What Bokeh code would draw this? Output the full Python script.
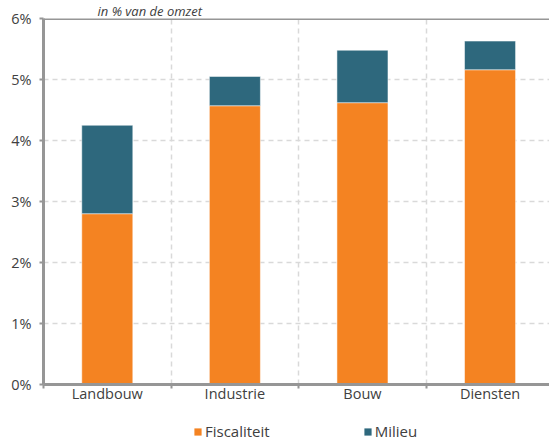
from bokeh.plotting import figure
from bokeh.layouts import column
from bokeh.models import (Range1d, FixedTicker, Span, Title, Legend, LegendItem,
                          ColumnDataSource)
from bokeh.embed import file_html
from bokeh.resources import INLINE

# Sector shares, in % of turnover
sectors = ["Landbouw", "Industrie", "Bouw", "Diensten"]
fiscaliteit = [2.80, 4.57, 4.62, 5.16]
milieu = [1.45, 0.48, 0.86, 0.47]
y_ticks = [0, 1, 2, 3, 4, 5, 6]
series = ["Fiscaliteit", "Milieu"]

ORANGE = "#F48322"
TEAL = "#2E687D"
AXIS = "#969696"
GRID = "#D9D9D9"
TEXT = "#404040"
FONT = "Open Sans"
FS = "14.5px"

centers = [i + 0.5 for i in range(len(sectors))]
totals = [f + m for f, m in zip(fiscaliteit, milieu)]
src = ColumnDataSource(dict(x=centers, fisc=fiscaliteit, tot=totals, zero=[0] * 4))

# ---- main chart -------------------------------------------------------------
p = figure(frame_width=506, frame_height=366, output_backend="svg",
           toolbar_location=None,
           x_range=Range1d(0, 3.966), y_range=Range1d(0, 6),
           min_border_left=43, min_border_right=0, min_border_top=18,
           min_border_bottom=30)
p.outline_line_color = None
p.background_fill_color = "white"
p.border_fill_color = "white"

p.vbar(x="x", width=0.4, bottom="zero", top="fisc", source=src,
       fill_color=ORANGE, line_color="white", line_alpha=0.5, line_width=1)
p.vbar(x="x", width=0.4, bottom="fisc", top="tot", source=src,
       fill_color=TEAL, line_color="white", line_alpha=0.5, line_width=1)

# dashed grids
p.ygrid.ticker = FixedTicker(ticks=y_ticks[1:-1])
p.xgrid.ticker = FixedTicker(ticks=[1, 2, 3])
for g in (p.xgrid, p.ygrid):
    g.grid_line_color = GRID
    g.grid_line_dash = "5 4"
    g.grid_line_width = 1.5

# top border line at 6%
p.add_layout(Span(location=6, dimension="width", line_color=AXIS, line_width=3))

# y axis
ya = p.yaxis[0]
ya.ticker = FixedTicker(ticks=y_ticks)
ya.major_label_overrides = {t: f"{t}%" for t in y_ticks}
ya.axis_line_color = AXIS
ya.axis_line_width = 3
ya.major_tick_line_color = AXIS
ya.major_tick_line_width = 2
ya.major_tick_out = 4
ya.major_tick_in = 0
ya.minor_tick_line_color = None
ya.major_label_standoff = 8
ya.major_label_text_font = FONT
ya.major_label_text_font_size = FS
ya.major_label_text_color = TEXT

# x axis: labels at centers, ticks at boundaries
xa = p.xaxis[0]
xa.ticker = FixedTicker(ticks=centers, minor_ticks=[0, 1, 2, 3, 4])
xa.major_label_overrides = {c: s for c, s in zip(centers, sectors)}
xa.axis_line_color = AXIS
xa.axis_line_width = 3
xa.major_tick_line_color = None
xa.major_tick_out = 0
xa.minor_tick_line_color = AXIS
xa.minor_tick_line_width = 2
xa.minor_tick_out = 4
xa.minor_tick_in = 0
xa.major_label_standoff = -5
xa.major_label_text_font = FONT
xa.major_label_text_font_size = FS
xa.major_label_text_color = TEXT

# subtitle
p.title = Title(text="in % van de omzet", align="left", offset=54, standoff=-2,
                text_font=FONT, text_font_style="italic", text_font_size="13px",
                text_color=TEXT)

# ---- legend strip -----------------------------------------------------------
lf = figure(frame_width=506, frame_height=23, output_backend="svg",
            toolbar_location=None, x_axis_type=None, y_axis_type=None,
            x_range=Range1d(0, 3.966), y_range=Range1d(100, 101),
            min_border_left=43, min_border_right=0, min_border_top=0,
            min_border_bottom=0)
lf.outline_line_color = None
lf.grid.visible = False
lf.background_fill_color = "white"
lf.border_fill_color = "white"

# swatch glyphs share the bar styling; their bars sit below this strip's range
swatches = [
    lf.vbar(x="x", width=0.4, bottom="zero", top="fisc", source=src,
            fill_color=ORANGE, line_color=None),
    lf.vbar(x="x", width=0.4, bottom="fisc", top="tot", source=src,
            fill_color=TEAL, line_color=None),
]

legend = Legend(items=[LegendItem(label=s, renderers=[r])
                       for s, r in zip(series, swatches)],
                orientation="horizontal", location=(150, -4),
                label_text_font=FONT, label_text_font_size="15px",
                label_text_color=TEXT, glyph_width=9, glyph_height=9,
                label_standoff=3, spacing=93, padding=0, margin=0,
                border_line_color=None, background_fill_alpha=0)
lf.add_layout(legend)

layout = column(p, lf, spacing=0)
open("out.html", "w").write(file_html(layout, INLINE))
